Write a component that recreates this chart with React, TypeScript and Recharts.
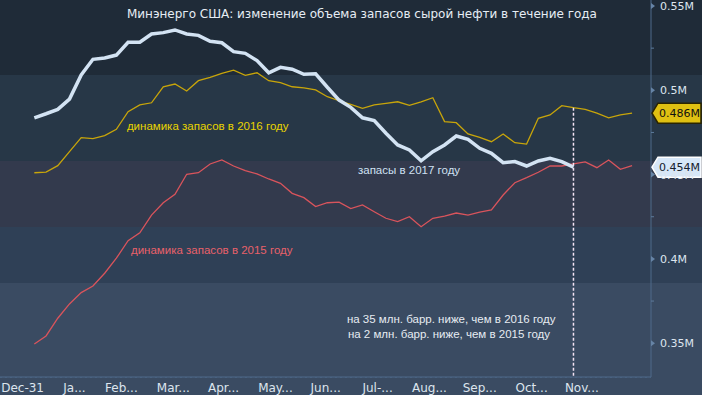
import React from 'react';
import {
  ComposedChart,
  Line,
  XAxis,
  YAxis,
  CartesianGrid,
  ReferenceArea,
  ReferenceLine,
  ReferenceDot,
} from 'recharts';

// weekly crude stocks, million barrels (first week ends ~Jan 7)
const stocks2017 = [
  483.7, 486.1, 488.7, 494.8, 509.1, 518.4, 519.2, 520.9, 528.5, 528.5,
  533.4, 534.2, 535.8, 533.4, 532.6, 529.1, 528.2, 522.9, 521.9, 517.6,
  510.4, 513.6, 512.5, 509.5, 509.8, 501.8, 494.2, 489.9, 483.7, 482.0,
  474.5, 467.6, 464.6, 458.2, 463.6, 467.6, 472.9, 470.9, 465.6, 462.6,
  457.1, 457.7, 455.1, 458.1, 459.7, 457.7, 454.4,
];
const stocks2016 = [
  451.1, 451.5, 455.3, 463.6, 471.9, 471.3, 473.1, 476.9, 487.3, 491.3,
  492.6, 502.1, 503.7, 499.6, 505.7, 507.7, 510.1, 512.0, 508.9, 510.4,
  505.7, 504.5, 502.1, 501.4, 500.2, 496.2, 493.8, 491.7, 489.3, 491.3,
  492.3, 493.2, 491.1, 493.2, 495.6, 481.4, 480.8, 474.1, 472.1, 469.5,
  474.1, 468.9, 468.1, 483.4, 485.4, 490.9, 489.7, 488.7, 486.4, 483.7,
  485.4, 486.4,
];
const stocks2015 = [
  349.5, 354.3, 364.8, 373.3, 380.0, 383.9, 391.5, 400.4, 410.8, 415.5,
  426.0, 433.3, 438.3, 450.2, 451.1, 456.3, 458.7, 455.1, 452.3, 450.4,
  447.4, 444.8, 438.9, 436.3, 431.0, 433.3, 433.7, 429.8, 432.0, 428.0,
  424.1, 422.1, 425.0, 419.1, 424.1, 425.4, 427.2, 426.0, 427.8, 429.0,
  437.9, 445.2, 448.2, 451.4, 455.1, 455.1, 456.3, 457.5, 454.1, 458.7,
  453.1, 455.3,
];

const monthEndDays = [0, 31, 59, 90, 120, 151, 181, 212, 243, 273, 304, 334];
const monthLabels = ['Dec-31', 'Ja...', 'Feb...', 'Mar...', 'Apr...', 'May...', 'Jun...', 'Jul-...', 'Aug...', 'Sep...', 'Oct...', 'Nov...'];
const yTicks = [350, 400, 450, 500, 550];
const yMinorTicks = [375, 425, 475, 525];

const bandEdges = [553.6, 509.1, 458.1, 418.9, 385.7, 329.95];
const bandFills = ['#1f2b38', '#273747', '#333a4d', '#2f4056', '#3a4b62'];

const X_DOMAIN: [number, number] = [-13.5, 375.3];
const Y_DOMAIN: [number, number] = [329.95, 553.56];

const FONT = '"DejaVu Sans", sans-serif';
const ANN_FONT = '"Liberation Sans", Arial, sans-serif';

const data = stocks2016.map((v, i) => ({
  day: 7 + 7 * i,
  s2015: stocks2015[i],
  s2016: v,
  s2017: i < stocks2017.length ? stocks2017[i] : null,
}));

const lastDay2017 = 7 + 7 * (stocks2017.length - 1);
const last2017 = stocks2017[stocks2017.length - 1];
const last2016 = stocks2016[stocks2016.length - 1];

const XTick = (props: any) => {
  const { x, y, payload } = props;
  const idx = monthEndDays.indexOf(payload.value);
  return (
    <text x={x} y={y} dy={15} textAnchor="middle" fill="#dde5ee" fontSize={12} fontFamily={FONT}>
      {monthLabels[idx]}
    </text>
  );
};

const YTick = (props: any) => {
  const { x, y, payload } = props;
  return (
    <g>
      <path d={`M${x},${y - 3}L${x + 4},${y}L${x},${y + 3}Z`} fill="#6684a6" />
      <text x={x + 9} y={y} dy={4} fill="#dde5ee" fontSize={11} fontFamily={FONT}>
        {`${payload.value / 1000}M`}
      </text>
    </g>
  );
};

const badge = (text: string, fill: string, stroke: string, color: string) => (props: any) => {
  const { cx, cy } = props;
  return (
    <g>
      <path
        d={`M${cx + 1},${cy} L${cx + 7},${cy - 10} L${cx + 50},${cy - 10} L${cx + 50},${cy + 10} L${cx + 7},${cy + 10} Z`}
        fill={fill}
        stroke={stroke}
        strokeWidth={1.5}
      />
      <text x={cx + 8} y={cy} dy={4} fill={color} fontSize={11} fontFamily={FONT}>
        {text}
      </text>
    </g>
  );
};

const note = (text: string, color: string, size: number, font: string) => (props: any) => {
  const { cx, cy } = props;
  return (
    <text x={cx} y={cy} dy={size * 0.36} fill={color} fontSize={size} fontFamily={font}>
      {text}
    </text>
  );
};

const minorTick = (props: any) => {
  const { cx, cy } = props;
  return <line x1={cx} y1={cy} x2={cx + 3} y2={cy} stroke="#5d7b9c" strokeWidth={1} />;
};

export default function App() {
  return (
    <div style={{ position: 'absolute', left: 0, top: 0, width: 702, height: 395, background: '#3a4b62' }}>
      <ComposedChart width={702} height={395} data={data} margin={{ top: 0, right: 0, bottom: 0, left: 0 }}>
        {bandFills.map((fill, i) => (
          <ReferenceArea
            key={i}
            x1={X_DOMAIN[0]}
            x2={406}
            y1={bandEdges[i + 1]}
            y2={bandEdges[i]}
            fill={fill}
            fillOpacity={1}
            stroke="none"
            ifOverflow="visible"
          />
        ))}
        <CartesianGrid stroke="#4d6b8d" strokeDasharray="2 3" />
        <XAxis
          dataKey="day"
          type="number"
          domain={X_DOMAIN}
          ticks={monthEndDays}
          height={18}
          tickSize={0}
          tickMargin={0}
          tickLine={false}
          axisLine={{ stroke: '#4f6b8a' }}
          tick={<XTick />}
          interval={0}
          allowDataOverflow
        />
        <YAxis
          orientation="right"
          type="number"
          domain={Y_DOMAIN}
          ticks={yTicks}
          width={51}
          tickSize={0}
          tickMargin={0}
          tickLine={false}
          axisLine={{ stroke: '#4f6b8a' }}
          tick={<YTick />}
          interval={0}
          allowDataOverflow
        />
        {yMinorTicks.map((v) => (
          <ReferenceDot key={v} x={X_DOMAIN[1]} y={v} r={0} shape={minorTick} ifOverflow="visible" />
        ))}
        <Line dataKey="s2015" stroke="#d9545c" strokeWidth={1.3} dot={false} activeDot={false} isAnimationActive={false} />
        <Line dataKey="s2016" stroke="#c8a50a" strokeWidth={1.3} dot={false} activeDot={false} isAnimationActive={false} />
        <Line dataKey="s2017" stroke="#d3e3f3" strokeWidth={3.5} dot={false} activeDot={false} isAnimationActive={false} />
        <ReferenceLine
          segment={[
            { x: lastDay2017, y: stocks2016[stocks2017.length - 1] },
            { x: lastDay2017, y: Y_DOMAIN[0] },
          ]}
          stroke="#f2e2f2"
          strokeWidth={1.5}
          strokeDasharray="3 2"
        />
        <ReferenceDot x={62.3} y={545.3} r={0} ifOverflow="visible"
          shape={note('Минэнерго США: изменение объема запасов сырой нефти в течение года', '#e6edf4', 12, FONT)} />
        <ReferenceDot x={62.3} y={478.8} r={0} ifOverflow="visible"
          shape={note('динамика запасов в 2016 году', '#e8d400', 11.5, ANN_FONT)} />
        <ReferenceDot x={200.3} y={452.7} r={0} ifOverflow="visible"
          shape={note('запасы в 2017 году', '#cfe0f2', 11.5, ANN_FONT)} />
        <ReferenceDot x={64.7} y={405.3} r={0} ifOverflow="visible"
          shape={note('динамика запасов в 2015 году', '#e8606a', 11.5, ANN_FONT)} />
        <ReferenceDot x={193.7} y={364.4} r={0} ifOverflow="visible"
          shape={note('на 35 млн. барр. ниже, чем в 2016 году', '#e6ecf2', 11.5, ANN_FONT)} />
        <ReferenceDot x={194.3} y={355.5} r={0} ifOverflow="visible"
          shape={note('на 2 млн. барр. ниже, чем в 2015 году', '#e6ecf2', 11.5, ANN_FONT)} />
        <ReferenceDot x={X_DOMAIN[1]} y={last2016} r={0} ifOverflow="visible"
          shape={badge(`${(last2016 / 1000).toFixed(3)}M`, '#dfc012', '#2a2400', '#111')} />
        <ReferenceDot x={X_DOMAIN[1]} y={last2017} r={0} ifOverflow="visible"
          shape={badge(`${(last2017 / 1000).toFixed(3)}M`, '#d6e7f8', '#ffffff', '#15202c')} />
      </ComposedChart>
    </div>
  );
}
